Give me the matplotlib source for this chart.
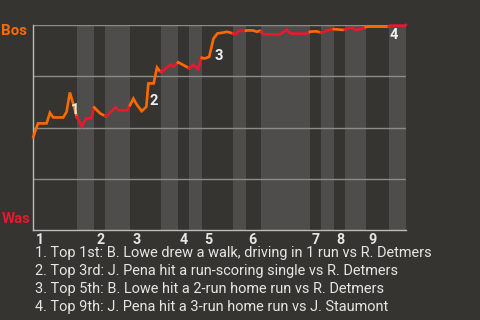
import numpy as np
import matplotlib.pyplot as plt

plt.rcParams['font.family'] = ['Roboto', 'DejaVu Sans']

# win probability for Boston after each play (x = play number)
plays = [0.0, 1.4, 4.0, 5.0, 6.0, 9.0, 10.0, 11.0, 12.0, 13.1,
         14.6, 15.9, 17.4, 18.3, 20.1, 21.9, 24.7, 25.6, 28.3, 30.1,
         31.1, 32.6, 34.0, 34.6, 36.2, 37.2, 38.0, 38.6, 40.1, 41.3,
         42.1, 43.6, 45.1, 46.9, 48.1, 49.6, 50.6, 51.6, 52.9, 54.2,
         55.4, 56.7, 58.2, 59.2, 60.2, 61.1, 61.7, 63.7, 64.3, 66.2,
         67.2, 68.2, 69.2, 74.2, 76.2, 77.4, 82.2, 83.4, 85.2, 86.7,
         88.7, 90.2, 93.2, 95.8, 96.8, 98.3, 100.3, 106.9, 107.3, 111.8,
         112.0]
bos_wp = [0.454, 0.520, 0.520, 0.572, 0.549, 0.549, 0.576, 0.671, 0.615, 0.551,
          0.506, 0.544, 0.545, 0.598, 0.569, 0.553, 0.598, 0.585, 0.584, 0.641,
          0.612, 0.580, 0.601, 0.715, 0.715, 0.793, 0.776, 0.769, 0.792, 0.805,
          0.797, 0.818, 0.805, 0.789, 0.805, 0.785, 0.840, 0.837, 0.845, 0.934,
          0.959, 0.962, 0.967, 0.963, 0.957, 0.957, 0.971, 0.971, 0.974, 0.973,
          0.967, 0.972, 0.955, 0.954, 0.977, 0.958, 0.958, 0.968, 0.969, 0.962,
          0.976, 0.980, 0.976, 0.987, 0.976, 0.979, 0.992, 0.992, 0.997, 0.997,
          1.000]

# play number where each half inning starts (top 1st ... bottom 9th), plus game end
half_starts = [0.0, 13.1, 18.3, 21.6, 29.1, 38.4, 43.5, 46.8, 50.7,
               60.0, 64.0, 68.5, 83.2, 86.5, 90.4, 93.7, 100.0, 106.9, 112.0]

key_plays = [7, 23, 39, 67]  # index into plays
key_notes = [
    "1. Top 1st: B. Lowe drew a walk, driving in 1 run vs R. Detmers",
    "2. Top 3rd: J. Pena hit a run-scoring single vs R. Detmers",
    "3. Top 5th: B. Lowe hit a 2-run home run vs R. Detmers",
    "4. Top 9th: J. Pena hit a 3-run home run vs J. Staumont",
]

BG = '#363431'
BAND = '#4e4d4b'
BOS = '#ff6a00'
WAS = '#e8192c'

fig = plt.figure(figsize=(4.8, 3.2), dpi=100, facecolor=BG)
ax = fig.add_axes([33.3 / 480, 90 / 320, 372.4 / 480, 205 / 320])
ax.set_facecolor(BG)

x = np.array(plays)
y = np.array(bos_wp)
for i in range(len(half_starts) - 1):
    a, b = half_starts[i], half_starts[i + 1]
    bottom = i % 2 == 1
    if bottom:
        ax.axvspan(a, b, color=BAND, lw=0, zorder=0)
    inside = (x > a) & (x < b)
    xs = np.concatenate([[a], x[inside], [b]])
    ys = np.interp(xs, x, y)
    ax.plot(xs, ys, color=WAS if bottom else BOS, lw=1.9,
            solid_joinstyle='miter', zorder=3, clip_on=False)

for g in [0.25, 0.5, 0.75, 1.0]:
    ax.axhline(g, color='#8c8b89', lw=1, zorder=1)

ax.set_xlim(0, 112)
ax.set_ylim(0, 1)
ax.set_xticks([])
ax.set_yticks([])
for s in ['top', 'right']:
    ax.spines[s].set_visible(False)
for s in ['left', 'bottom']:
    ax.spines[s].set_color('#bcbbb9')
    ax.spines[s].set_linewidth(1)

# inning numbers under the start of each top half
for n, start in enumerate(half_starts[0:-1:2]):
    ax.annotate(str(n + 1), (start, 0), xytext=(1.5, -2), textcoords='offset points',
                ha='left', va='top', color='#e6e6e6', fontsize=10.3, fontweight='bold')

for n, k in enumerate(key_plays):
    dy = -1 if bos_wp[k] > 0.99 else -7.5
    ax.annotate(str(n + 1), (plays[k], bos_wp[k]), xytext=(0.8, dy),
                textcoords='offset points', ha='left', va='top',
                color='#f0f0f0', fontsize=10.5, fontweight='bold', zorder=4)

fig.text(27.5 / 480, 1 - 31 / 320, 'Bos', ha='right', va='center',
         color=BOS, fontsize=10.8, fontweight='bold')
fig.text(31 / 480, 1 - 219 / 320, 'Was', ha='right', va='center',
         color=WAS, fontsize=10.8, fontweight='bold')

for i, note in enumerate(key_notes):
    fig.text(35 / 480, 1 - (253.5 + 17.8 * i) / 320, note, ha='left', va='center',
             color='#e6e6e6', fontsize=10.45)

fig.savefig('out.png', dpi=100, facecolor=BG)
